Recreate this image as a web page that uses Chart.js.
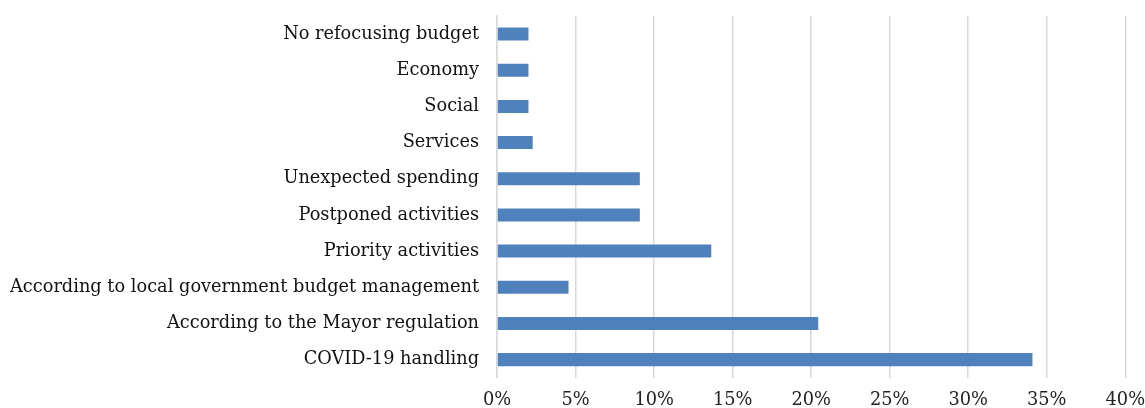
<!DOCTYPE html>
<html>
<head>
<meta charset="utf-8">
<script src="https://cdn.jsdelivr.net/npm/chart.js@4/dist/chart.umd.min.js"></script>
<style>
  html, body { margin: 0; padding: 0; background: #fff; }
  #wrap { width: 1145px; height: 408px; }
</style>
</head>
<body>
<div id="wrap"><canvas id="refocus-chart"></canvas></div>
<script>
const categories = [
  "No refocusing budget",
  "Economy",
  "Social",
  "Services",
  "Unexpected spending",
  "Postponed activities",
  "Priority activities",
  "According to local government budget management",
  "According to the Mayor regulation",
  "COVID-19 handling",
];
const shares = [2.0, 2.0, 2.0, 2.27, 9.09, 9.09, 13.64, 4.55, 20.45, 34.09];
const xMax = 40;
const xStep = 5;

const fontFamily = "'DejaVu Serif', serif";

const canvas = document.querySelector("#refocus-chart");
new Chart(canvas.getContext("2d"), {
  type: "bar",
  data: {
    labels: categories,
    datasets: [
      {
        data: shares,
        backgroundColor: "#4f81bd",
        borderWidth: 0,
        barPercentage: 0.36,
        categoryPercentage: 1,
      },
    ],
  },
  options: {
    indexAxis: "y",
    responsive: true,
    maintainAspectRatio: false,
    animation: false,
    layout: { padding: { top: 16, right: 0, bottom: -3, left: 10 } },
    plugins: {
      legend: { display: false },
      tooltip: { enabled: false },
    },
    scales: {
      x: {
        min: 0,
        max: xMax,
        ticks: {
          stepSize: xStep,
          color: "#222",
          padding: 0,
          font: { family: fontFamily, size: 17.75 },
          callback: (v) => `${v}%`,
        },
        // invisible tick marks give the gap between gridlines and labels
        grid: {
          color: "#d9d9d9",
          lineWidth: 1.5,
          drawTicks: true,
          tickLength: 12,
          tickColor: "rgba(0,0,0,0)",
        },
        border: { display: false },
      },
      y: {
        ticks: {
          color: "#111",
          padding: 0,
          font: { family: fontFamily, size: 17.75 },
        },
        grid: {
          display: true,
          drawOnChartArea: false,
          drawTicks: true,
          tickLength: 18,
          tickColor: "rgba(0,0,0,0)",
        },
        border: { display: true, color: "#d9d9d9", width: 1.5 },
      },
    },
  },
});
</script>
</body>
</html>
